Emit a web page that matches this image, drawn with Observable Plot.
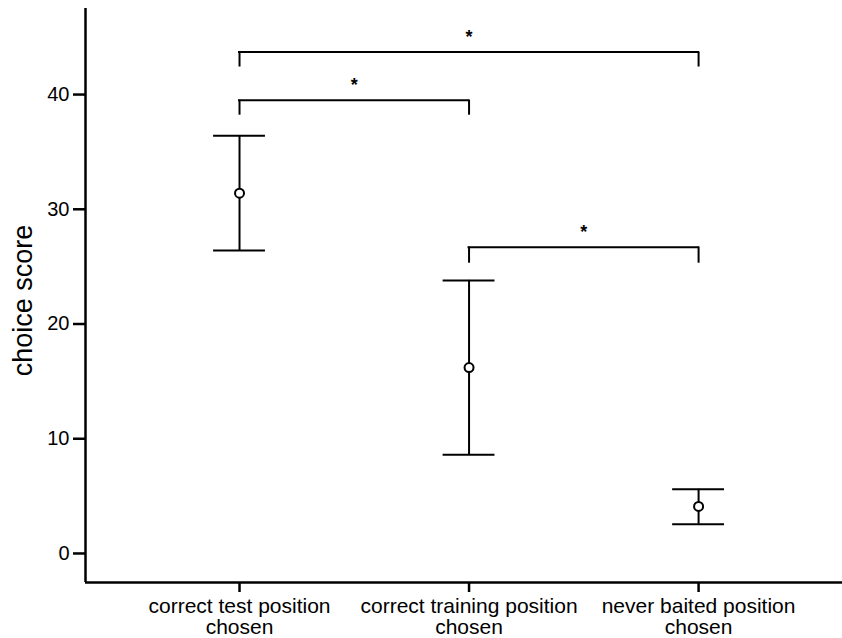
<!DOCTYPE html>
<html><head><meta charset="utf-8">
<script src="https://cdn.jsdelivr.net/npm/d3@7"></script>
<script src="https://cdn.jsdelivr.net/npm/@observablehq/plot@0.6"></script>
<style>
body{margin:0;background:#fff}
#chart svg [aria-label="y-axis tick"], #chart svg [aria-label="x-axis tick"] {stroke-width:2.5px}
</style>
</head><body><div id="chart"></div>
<script>
const categories = ["correct test position\nchosen", "correct training position\nchosen", "never baited position\nchosen"];
const means = [31.4, 16.2, 4.1];
const upper = [36.4, 23.8, 5.6];
const lower = [26.4, 8.6, 2.55];
const yTicks = [0, 10, 20, 30, 40];
const yLabel = "choice score";
const bracketFrom = [0, 0, 1];
const bracketTo = [2, 1, 2];
const bracketTop = [43.7, 39.5, 26.7];
const bracketFoot = [42.4, 38.2, 25.3];
const bracketLabel = ["*", "*", "*"];

const xDomain = [0.329, 3.627];
const yDomain = [-2.53, 47.5];
const pts = categories.map((c, i) => ({x: i + 1, c, mean: means[i], lo: lower[i], hi: upper[i]}));
const capHalf = 0.113;
const caps = pts.flatMap(d => [{x1: d.x - capHalf, x2: d.x + capHalf, y: d.lo}, {x1: d.x - capHalf, x2: d.x + capHalf, y: d.hi}]);
const br = bracketFrom.map((f, i) => ({x1: f + 1, x2: bracketTo[i] + 1, top: bracketTop[i], foot: bracketFoot[i], label: bracketLabel[i]}));
const legs = br.flatMap(b => [{x: b.x1, y1: b.foot, y2: b.top}, {x: b.x2, y1: b.foot, y2: b.top}]);

const chart = Plot.plot({
  width: 842, height: 638,
  marginLeft: 85, marginRight: 0, marginTop: 8, marginBottom: 56,
  style: {fontFamily: "'Liberation Sans', Arial, sans-serif", color: "#000", background: "#fff"},
  x: {type: "linear", domain: xDomain},
  y: {domain: yDomain},
  marks: [
    Plot.axisY({ticks: yTicks, tickSize: 12, tickPadding: 4, fontSize: 20, strokeWidth: 2.5, label: null}),
    Plot.axisX({ticks: [1, 2, 3], tickFormat: v => categories[v - 1], tickSize: 10, tickPadding: 5, fontSize: 21,
      lineHeight: 1.02, strokeWidth: 2.5, label: null}),
    Plot.ruleX([xDomain[0]], {stroke: "#000", strokeWidth: 2.5}),
    Plot.ruleY([yDomain[0]], {stroke: "#000", strokeWidth: 2.5}),
    Plot.text([yLabel], {frameAnchor: "left", textAnchor: "middle", rotate: -90, dx: -62, dy: 5, fontSize: 27, fill: "#000"}),
    Plot.ruleX(pts, {x: "x", y1: "lo", y2: "hi", stroke: "#000", strokeWidth: 2}),
    Plot.ruleY(caps, {x1: "x1", x2: "x2", y: "y", stroke: "#000", strokeWidth: 2}),
    Plot.dot(pts, {x: "x", y: "mean", r: 4.5, fill: "#fff", stroke: "#000", strokeWidth: 2}),
    Plot.ruleY(br, {x1: "x1", x2: "x2", y: "top", stroke: "#000", strokeWidth: 2, strokeLinecap: "square"}),
    Plot.ruleX(legs, {x: "x", y1: "y1", y2: "y2", stroke: "#000", strokeWidth: 2}),
    Plot.text(br, {x: d => (d.x1 + d.x2) / 2, y: "top", text: "label", dy: -15, fontSize: 18, fontWeight: "bold", fill: "#000"})
  ]
});
document.getElementById("chart").appendChild(chart);
</script>
</body></html>
